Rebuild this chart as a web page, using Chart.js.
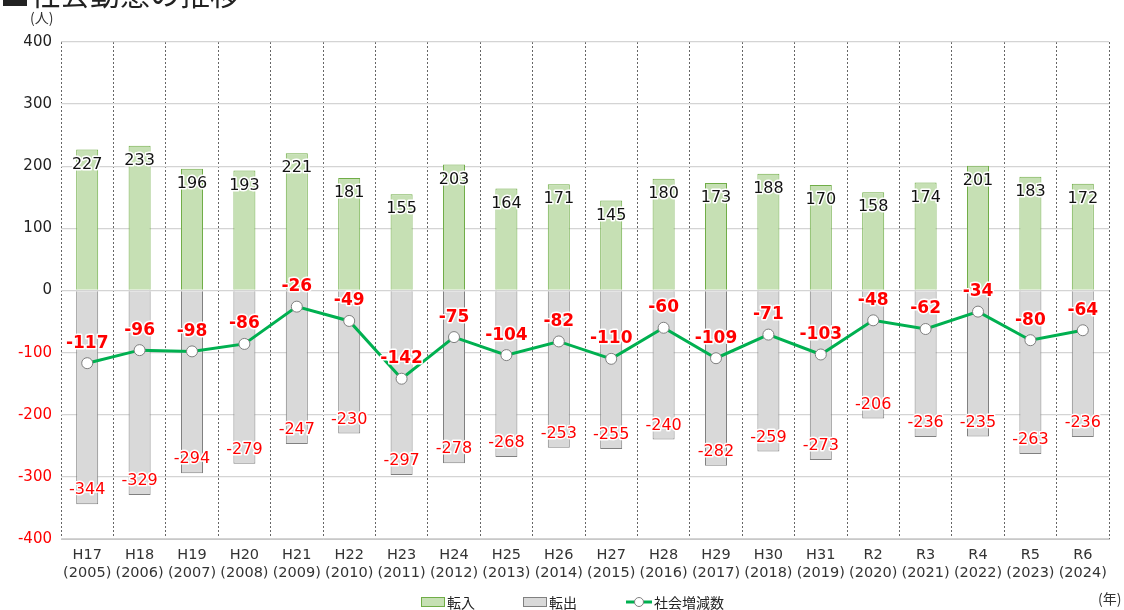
<!DOCTYPE html>
<html lang="ja">
<head>
<meta charset="utf-8">
<script src="https://cdn.jsdelivr.net/npm/chart.js@4"></script>
<style>
  body { margin: 0; background: #fff; font-family: "Noto Sans CJK JP", "Noto Sans", sans-serif; }
  #wrap { position: relative; width: 1124px; height: 610px; overflow: hidden; }
  .title { position: absolute; left: 0px; top: -30px; font-size: 30px; font-weight: 400; color: #222; }
  .unit { position: absolute; font-size: 14px; color: #333; }
  .legend { position: absolute; top: 592px; font-size: 14px; color: #222; display: flex; align-items: center; }
  .sw { display: inline-block; width: 22px; height: 8px; margin-right: 2px; }
</style>
</head>
<body>
<div id="wrap">
  <div class="title">■社会動態の推移</div>
  <div class="unit" style="left:30px; top:7px;">(人)</div>
  <div class="unit" style="left:1098px; top:588px;">(年)</div>
  <div class="legend" style="left:421px;"><span class="sw" style="background:#c6e0b4;border:1px solid #70ad47;"></span>転入</div>
  <div class="legend" style="left:523px;"><span class="sw" style="background:#d9d9d9;border:1px solid #808080;"></span>転出</div>
  <div class="legend" style="left:626px;">
    <svg width="26" height="12" style="margin-right:2px"><line x1="0" y1="6" x2="26" y2="6" stroke="#00b050" stroke-width="3"/><circle cx="13" cy="6" r="4.5" fill="#fff" stroke="#808080"/></svg>社会増減数</div>
  <canvas id="c" width="1124" height="610"></canvas>
</div>
<script>
// ---- data ----
const eras = ["H17","H18","H19","H20","H21","H22","H23","H24","H25","H26","H27","H28","H29","H30","H31","R2","R3","R4","R5","R6"];
const years = ["2005","2006","2007","2008","2009","2010","2011","2012","2013","2014","2015","2016","2017","2018","2019","2020","2021","2022","2023","2024"];
const inflow = [227,233,196,193,221,181,155,203,164,171,145,180,173,188,170,158,174,201,183,172];
const outflow = [-344,-329,-294,-279,-247,-230,-297,-278,-268,-253,-255,-240,-282,-259,-273,-206,-236,-235,-263,-236];
const net = [-117,-96,-98,-86,-26,-49,-142,-75,-104,-82,-110,-60,-109,-71,-103,-48,-62,-34,-80,-64];
const yTicks = [400,300,200,100,0,-100,-200,-300,-400];

const labels = eras.map((e, i) => [e, "(" + years[i] + ")"]);
const FAM = '"DejaVu Sans", "Noto Sans CJK JP", sans-serif';

// labels with white halo
function haloText(ctx, txt, x, y, color) {
  ctx.lineWidth = 3;
  ctx.strokeStyle = "#fff";
  ctx.lineJoin = "round";
  ctx.strokeText(txt, x, y);
  ctx.fillStyle = color;
  ctx.fillText(txt, x, y);
}

const valueLabels = {
  id: "valueLabels",
  afterDatasetsDraw(chart) {
    const ctx = chart.ctx;
    ctx.save();
    ctx.textAlign = "center";
    ctx.textBaseline = "middle";
    chart.getDatasetMeta(0).data.forEach((bar, i) => {
      ctx.font = "16px " + FAM;
      haloText(ctx, String(inflow[i]), bar.x, bar.y + 15, "#111");
    });
    chart.getDatasetMeta(1).data.forEach((bar, i) => {
      ctx.font = "16px " + FAM;
      haloText(ctx, String(outflow[i]), bar.x, bar.y - 14, "#ff0000");
    });
    chart.getDatasetMeta(2).data.forEach((pt, i) => {
      ctx.font = "bold 17px " + FAM;
      haloText(ctx, String(net[i]), pt.x, pt.y - 20, "#ff0000");
    });
    ctx.restore();
  }
};

new Chart(document.getElementById("c"), {
  data: {
    labels: labels,
    datasets: [
      {
        type: "bar", label: "転入", data: inflow,
        backgroundColor: "#c6e0b4", borderColor: "#70ad47", borderWidth: 1,
        barPercentage: 0.84, categoryPercentage: 0.5, order: 2
      },
      {
        type: "bar", label: "転出", data: outflow,
        backgroundColor: "#d9d9d9", borderColor: "#808080", borderWidth: 1,
        barPercentage: 0.84, categoryPercentage: 0.5, order: 2
      },
      {
        type: "line", label: "社会増減数", data: net,
        borderColor: "#00b050", borderWidth: 3, tension: 0,
        pointBackgroundColor: "#fff", pointBorderColor: "#808080",
        pointBorderWidth: 1, pointRadius: 5.5, order: 1
      }
    ]
  },
  options: {
    responsive: false,
    animation: false,
    layout: { padding: { top: 42, right: 15, bottom: 0, left: 0 } },
    plugins: { legend: { display: false }, tooltip: { enabled: false } },
    scales: {
      x: {
        stacked: true,
        grid: { offset: true, color: "#666", drawTicks: false, lineWidth: 1 },
        border: { display: true, color: "#c8c8c8", dash: [2, 2] },
        ticks: { color: "#333", font: { size: 14.5, family: FAM }, padding: 8, maxRotation: 0, autoSkip: false },
        afterFit(scale) { scale.height = 71; }
      },
      y: {
        min: -400, max: 400,
        afterBuildTicks(scale) { scale.ticks = yTicks.map(v => ({ value: v })); },
        grid: { color: "#d4d4d4", drawTicks: false, lineWidth: 1.3 },
        border: { display: false },
        ticks: {
          padding: 9,
          color: (c) => c.tick.value < 0 ? "#ff0000" : "#222",
          font: { size: 15, family: FAM }
        },
        afterFit(scale) { scale.width = 61; }
      }
    }
  },
  plugins: [valueLabels]
});
</script>
</body>
</html>
